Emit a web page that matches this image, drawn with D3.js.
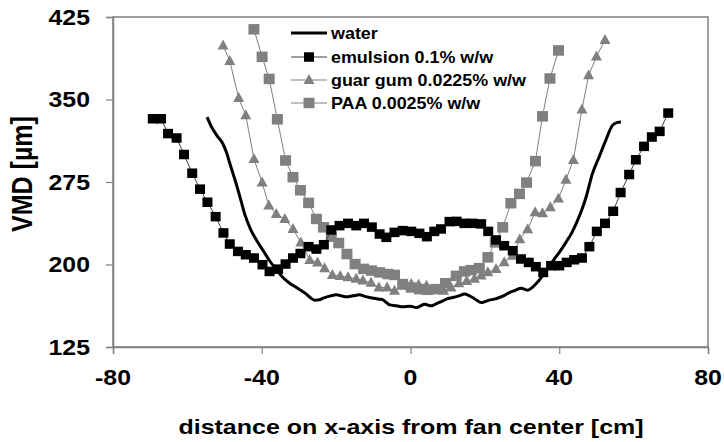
<!DOCTYPE html>
<html><head><meta charset="utf-8">
<script src="https://cdn.jsdelivr.net/npm/d3@7"></script>
<style>
html,body{margin:0;padding:0;background:#fff;}
svg text{font-family:"Liberation Sans",Arial,sans-serif;font-weight:bold;fill:#000;}
</style></head><body>
<svg id="chart" width="724" height="442"></svg>
<script>
// ---- data ----
const seriesNames = ["water", "emulsion 0.1% w/w", "guar gum 0.0225% w/w", "PAA 0.0025% w/w"];
const xTicks = [-80, -40, 0, 40, 80];
const yTicks = [125, 200, 275, 350, 425];

const waterX = [-54.7,-53.5,-52,-50.5,-49.5,-48.6,-47.2,-45.9,-44.6,-43,-41.4,-39.5,-37.9,-36,-34.3,-32.5,-30.7,-28,-26.8,-25.8,-24.5,-23.5,-21.5,-19.9,-18.5,-17.3,-15.5,-13.7,-12.3,-11,-8.3,-7.5,-6.5,-5.6,-3.8,-2.1,0,1.5,2.5,3.8,5.6,7,8.7,10,11.4,13,14.5,15.6,16.7,17.8,19,20.2,21.2,22.5,23.9,25.3,26.6,28.2,29.7,31.5,32.7,33.7,35.5,37,38.7,40.2,41.8,43.4,44.9,46,47.2,48.9,50.7,52.5,54.3,55.5,56.6];
const waterY = [334,325,317,310,302,292,277,262,246,232,222,212,203.4,195,188.2,183,179.1,173.1,169.5,167.6,168,169.4,171.5,172.4,171.5,170.6,171.5,172.4,171,170,168.5,168,165.4,163.3,162.5,161.5,162,160.8,162,163.9,162.4,164.5,167,169,170,171.5,173.1,172,170,167.5,165.4,166.5,167.6,168.5,170,172,174.5,176.5,178.5,176.7,179,182.2,189.7,197,205,212,220.1,229,239.9,249,261.1,282.4,297.6,312.8,326.5,329,329.5];

const emulsionX = [-69.3,-67.1,-65.2,-62.9,-60.9,-58.7,-56.6,-54.6,-52.4,-50.3,-48.6,-46.4,-44.3,-42.1,-39.8,-37.9,-35.6,-33.6,-31.6,-29.6,-27.4,-25.3,-23.3,-21.3,-19.1,-16.8,-14.6,-12.5,-10.4,-8.3,-6.5,-4.3,-2.1,0.2,2.4,4.4,6.4,8.2,10.5,12.4,14.5,16.7,19,20.9,23,25.2,27.5,29.7,31.8,33.7,35.7,37.8,40,42,44,46.1,48.1,50.1,52.3,54.5,56.5,58.8,60.6,62.8,64.9,67,69.3];
const emulsionY = [332.5,332.5,319,315,300,283,268.5,256.6,243.5,228.7,218.6,211.9,208.9,205.9,199.8,193.7,195.8,200.4,205.9,210,216.2,214,218,231.4,235.3,237.4,235.3,237.4,234,227.7,224.7,229.2,230.8,230.1,228.3,225.3,230.1,232.3,239,239.2,237.4,237.4,236.9,230.1,222.3,217.1,212.5,205,201.9,198,192.8,198.9,198.9,201.9,204.3,205.9,216.2,230.1,237.4,248.4,265.4,281.8,295.2,307.4,315.9,321,337.7];

const guarX = [-50.4,-48.6,-46.2,-44.3,-42.1,-39.9,-38.1,-36.1,-33.8,-31.6,-29.5,-27.1,-25,-23.1,-21,-18.9,-16.8,-14.6,-12.8,-10.6,-8.5,-6.3,-4.3,-2.1,0.2,2.2,4.3,6.7,8.9,10.9,13,15.1,17.2,19,20.8,23,25.2,27.4,29.4,31.5,33.5,35.5,37.6,39.8,41.8,43.8,46.1,47.9,50,52.3];
const guarY = [399,385,351.4,335.6,296,274.5,253.6,246,241.4,232.3,220.1,204,201.9,196.7,190.5,189.5,188.5,187,185.5,183.5,179.1,179.1,176.1,180.6,182.2,181.5,180.6,177,176.1,179,183,185,187,190,193,196,202,208,223,232,247.5,246.5,252,260,277,295,341,372,389,404];

const paaX = [-42.1,-39.9,-38,-35.8,-33.6,-31.6,-29.6,-27.4,-25.3,-23.4,-21.3,-19.3,-17.1,-14.9,-12.6,-10.5,-8.3,-6.1,-4.3,-2.1,0.2,2.4,4.6,6.9,9.4,12.3,14.5,16.3,18.5,20.8,22.8,24.8,27,29.3,31.2,33.6,35.5,37.5,39.8];
const paaY = [413.8,388.8,368.7,332,294.6,279.4,267.5,256,241.4,233.8,225.3,219.5,209.5,200.4,196,194.5,192.8,191.3,190.5,182.2,179.1,177.6,177,177.6,183,189.7,193.7,194.9,196.7,206.5,220.1,233.8,255.7,264.2,274.5,294,334.7,369.1,394.6];

// ---- layout ----
const svg = d3.select("#chart");
const L = 113, R = 708, T = 17, B = 347;
const x = d3.scaleLinear().domain([-80, 80]).range([L, R]);
const y = d3.scaleLinear().domain([125, 425]).range([B, T]);
const gray = "#808080";

// frame
svg.append("rect").attr("x", L).attr("y", T).attr("width", R - L).attr("height", B - T)
  .attr("fill", "none").attr("stroke", gray).attr("stroke-width", 1.5);

// axes
const xAxis = svg.append("g").attr("transform", `translate(0,${B})`)
  .call(d3.axisBottom(x).tickValues(xTicks).tickSize(7).tickFormat(""));
const yAxis = svg.append("g").attr("transform", `translate(${L},0)`)
  .call(d3.axisLeft(y).tickValues(yTicks).tickSize(7).tickFormat(""));
[xAxis, yAxis].forEach(g => {
  g.select(".domain").attr("stroke", gray).attr("stroke-width", 1.5);
  g.selectAll(".tick line").attr("stroke", gray).attr("stroke-width", 1.2);
});

// tick labels
svg.append("g").selectAll("text").data(xTicks).join("text")
  .attr("transform", d => `translate(${x(d)},377) scale(1.13,1)`)
  .attr("text-anchor", "middle").attr("dy", "0.36em")
  .style("font-size", "22px").text(d => d);
svg.append("g").selectAll("text").data(yTicks).join("text")
  .attr("transform", d => `translate(90,${y(d)}) scale(1.13,1)`)
  .attr("text-anchor", "end").attr("dy", "0.36em")
  .style("font-size", "22px").text(d => d);

// axis titles
svg.append("text").attr("transform", `translate(411,434) scale(1.19,1)`)
  .attr("text-anchor", "middle").style("font-size", "21px")
  .text("distance on x-axis from fan center [cm]");
svg.append("text").attr("transform", `translate(32,174) scale(1.2,1) rotate(-90)`)
  .attr("text-anchor", "middle").style("font-size", "25px")
  .text("VMD [\u00b5m]");

// series
const zip = (xs, ys) => xs.map((v, i) => [v, ys[i]]);
const line = d3.line().x(d => x(d[0])).y(d => y(d[1]));
const water = zip(waterX, waterY), emul = zip(emulsionX, emulsionY),
      guar = zip(guarX, guarY), paa = zip(paaX, paaY);

const triPath = (w, h) => `M0,${-h*0.6}L${w/2},${h*0.4}L${-w/2},${h*0.4}Z`;

function squares(g, data, w, h, fill) {
  g.selectAll("rect.m").data(data).join("rect").attr("class", "m")
    .attr("x", d => x(d[0]) - w/2).attr("y", d => y(d[1]) - h/2)
    .attr("width", w).attr("height", h).attr("fill", fill);
}
function triangles(g, data, w, h, fill) {
  g.selectAll("path.m").data(data).join("path").attr("class", "m")
    .attr("d", triPath(w, h))
    .attr("transform", d => `translate(${x(d[0])},${y(d[1])})`).attr("fill", fill);
}

const BS = [10, 9.5], GS = [11, 10.5], TS = [11, 10];

// guar gum
const gG = svg.append("g");
gG.append("path").datum(guar).attr("d", line).attr("fill", "none").attr("stroke", gray).attr("stroke-width", 1);
triangles(gG, guar, TS[0], TS[1], gray);
// PAA
const gP = svg.append("g");
gP.append("path").datum(paa).attr("d", line).attr("fill", "none").attr("stroke", gray).attr("stroke-width", 1);
squares(gP, paa, GS[0], GS[1], gray);
// emulsion
const gE = svg.append("g");
gE.append("path").datum(emul).attr("d", line).attr("fill", "none").attr("stroke", "#404040").attr("stroke-width", 1);
squares(gE, emul, BS[0], BS[1], "#000");
// water
svg.append("path").datum(water).attr("d", line.curve(d3.curveMonotoneX)).attr("fill", "none")
  .attr("stroke", "#000").attr("stroke-width", 3).attr("stroke-linejoin", "round");

// legend
const leg = svg.append("g");
const rows = [33, 57, 80, 103];
const lx0 = 291, lx1 = 327, mx = 309;
leg.append("line").attr("x1", lx0).attr("x2", lx1).attr("y1", rows[0]).attr("y2", rows[0])
  .attr("stroke", "#000").attr("stroke-width", 3);
leg.append("line").attr("x1", lx0).attr("x2", lx1).attr("y1", rows[1]).attr("y2", rows[1])
  .attr("stroke", "#404040").attr("stroke-width", 1);
leg.append("rect").attr("x", mx - BS[0]/2).attr("y", rows[1] - BS[1]/2).attr("width", BS[0]).attr("height", BS[1]).attr("fill", "#000");
leg.append("line").attr("x1", lx0).attr("x2", lx1).attr("y1", rows[2]).attr("y2", rows[2])
  .attr("stroke", gray).attr("stroke-width", 1);
leg.append("path").attr("d", triPath(TS[0], TS[1])).attr("transform", `translate(${mx},${rows[2]})`).attr("fill", gray);
leg.append("line").attr("x1", lx0).attr("x2", lx1).attr("y1", rows[3]).attr("y2", rows[3])
  .attr("stroke", gray).attr("stroke-width", 1);
leg.append("rect").attr("x", mx - GS[0]/2).attr("y", rows[3] - GS[1]/2).attr("width", GS[0]).attr("height", GS[1]).attr("fill", gray);
leg.selectAll("text").data(seriesNames).join("text")
  .attr("transform", (d, i) => `translate(331,${rows[i]}) scale(1.12,1)`)
  .attr("dy", "0.36em").style("font-size", "16px").text(d => d);
</script>
</body></html>
